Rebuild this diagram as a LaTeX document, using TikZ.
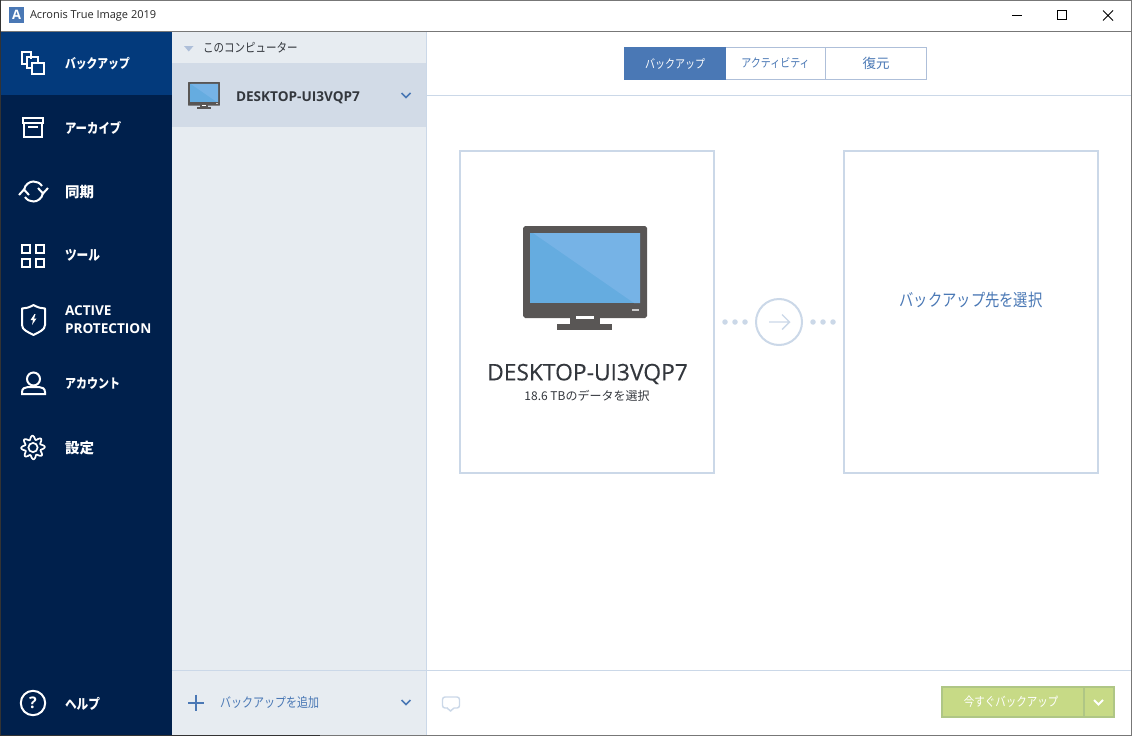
\documentclass[tikz,border=0pt]{standalone}
\usepackage{fontspec}
\setmainfont{Open Sans}
\newfontfamily\cjk{Noto Sans CJK JP}
\newfontfamily\semi[FakeBold=.3]{Open Sans}
\usetikzlibrary{positioning}
\definecolor{navy}{HTML}{00204C}
\definecolor{navyactive}{HTML}{033A7C}
\definecolor{panel}{HTML}{E7ECF1}
\definecolor{panelsel}{HTML}{D2DBE7}
\definecolor{edge}{HTML}{CBD8E8}
\definecolor{tabblue}{HTML}{4A78B5}
\definecolor{tabedge}{HTML}{AEBFD9}
\definecolor{btn}{HTML}{C7DA86}
\definecolor{btnedge}{HTML}{AFC685}
\definecolor{bezel}{HTML}{595655}
\definecolor{screendark}{HTML}{65ACE0}
\definecolor{screenlight}{HTML}{76B3E6}
\definecolor{inktext}{HTML}{33373D}
\definecolor{framegray}{HTML}{777777}
\tikzset{
	txt/.style={inner sep=0pt,outer sep=0pt,font=\cjk},
	menulabel/.style={txt,anchor=west,text=white},
	icon/.style={draw=white,line width=2pt},
	box/.style={draw=edge,line width=2pt,fill=white},
	tabcell/.style={draw=tabedge,line width=1pt,fill=white},
	chev/.style={draw=tabblue,line width=1.7pt},
	dot/.style={circle,fill=edge,inner sep=0pt,minimum size=5.5pt}
}
\newcommand{\kana}[1]{\scalebox{1}[1.2]{#1}}
\newcommand{\drawmonitor}[2]{
	\begin{scope}[shift={#1},scale=#2]
		\fill [bezel] (2,0) -- (122,0) -- (124,2) -- (124,90) -- (122,92) -- (2,92) -- (0,90) -- (0,2) -- cycle;
		\fill [screendark] (7,7) rectangle (117,77);
		\fill [screenlight] (10,7) -- (117,7) -- (117,77) -- (111,77) -- cycle;
		\fill [white!70!bezel] (109,83) rectangle (116,85);
		\fill [bezel] (47,90) rectangle (77,98);
		\fill [white] (53,90) rectangle (71,93);
		\fill [bezel] (34,98) rectangle (89,104);
	\end{scope}
}
\begin{document}
\begin{tikzpicture}[x=1pt,y=-1pt]
	\useasboundingbox (0,0) rectangle (1132,736);
	\fill [white] (0,0) rectangle (1132,736);
	\fill [navy] (0,32) rectangle (172,736);
	\fill [navyactive] (0,32) rectangle (172,95);
	\fill [panel] (172,32) rectangle (426,736);
	\fill [panelsel] (172,63) rectangle (426,127);
	\draw [edge,line width=1pt] (426.5,32) -- (426.5,736);
	\draw [edge,line width=1pt] (427,95.5) -- (1132,95.5);
	\draw [edge,line width=1pt] (172,670.5) -- (1132,670.5);
	\draw [framegray,line width=1pt] (0,.5) -- (1131.5,.5) -- (1131.5,736);
	\draw [framegray,line width=1pt] (0,31.5) -- (1132,31.5);
	\draw [black!80,line width=1pt] (.5,0) -- (.5,736);
	\draw [black!80,line width=1pt] (0,735.5) -- (320,735.5);
	\draw [framegray,line width=1pt] (320,735.5) -- (1132,735.5);

	\fill [tabblue] (9,7) rectangle (24,23);
	\node [txt,text=white,font=\bfseries\fontsize{13}{13}\selectfont] (logo) at (16.5,15) {A};
	\node [txt,anchor=west,text=black!85,font=\fontsize{11}{12}\selectfont] (title) at (30,16) {Acronis True Image 2019};
	\draw [black,line width=1pt] (1012,15.5) -- (1022,15.5);
	\draw [black,line width=1pt] (1057.5,10.5) rectangle (1066.5,19.5);
	\draw [black,line width=1pt] (1103,10.5) -- (1113,20.5) (1113,10.5) -- (1103,20.5);

	\foreach \name/\ypos/\size/\label in {backup/63.5/10.8/\kana{バックアップ},archive/127.5/11.4/\kana{アーカイブ},sync/192/14.5/同期,tools/255.5/11.7/\kana{ツール},account/383.5/11/\kana{アカウント},settings/448/14.5/設定,help/703.5/11.7/\kana{ヘルプ}}
		\node [menulabel,font=\cjk\bfseries\fontsize{\size}{\size}\selectfont] (\name) at (65,\ypos) {\label};
	\node [menulabel,align=left,font=\bfseries\fontsize{13.6}{18.5}\selectfont] (protect) at (65,319.5) {ACTIVE\\PROTECTION};

	\draw [icon] (31,59) -- (31,52) -- (22,52) -- (22,64) -- (27,64);
	\draw [icon] (38,62) -- (38,57) -- (27,57) -- (27,68) -- (31,68);
	\draw [icon] (31.5,62.5) rectangle (44,74);
	\draw [icon] (23,118) rectangle (43,123);
	\draw [icon] (24,123) rectangle (42,137);
	\draw [icon] (28,126.5) -- (38,126.5);
	\draw [icon] (24,190) .. controls (25,184) and (30,181.5) .. (33.5,181.5) .. controls (37,181.5) and (40,183) .. (42,186);
	\draw [icon] (19,195) -- (24,189.5) -- (29,195);
	\draw [icon] (43,193) .. controls (42,199) and (37,201.5) .. (33.5,201.5) .. controls (30,201.5) and (27,200) .. (25,197);
	\draw [icon] (38,188) -- (43,193.5) -- (48,188);
	\foreach \xpos in {22,36}
		\foreach \ypos in {245,259}
			\draw [icon] (\xpos,\ypos) rectangle +(8,8);
	\draw [icon,line join=round] (33.5,305) .. controls (29,307.5) and (26,308.5) .. (22,308.5) -- (22,325) .. controls (22,330) and (28,332) .. (33.5,335) .. controls (39,332) and (45,330) .. (45,325) -- (45,308.5) .. controls (41,308.5) and (38,307.5) .. (33.5,305) -- cycle;
	\fill [white] (34.5,314) -- (30.5,320) -- (33,320) -- (32,325) -- (36.5,318.5) -- (34,318.5) -- (35.5,314) -- cycle;
	\draw [icon] (33.5,379) circle [radius=6.5];
	\draw [icon] (22,394) -- (22,392) .. controls (22,388.5) and (25,387) .. (28,387) -- (39,387) .. controls (42,387) and (45,388.5) .. (45,392) -- (45,394) -- cycle;
	\draw [icon,line width=1.7pt,line join=round] plot [domain=0:360,samples=129,smooth,variable=\t] ({33+(9.9+1.9*cos(8*\t+22.5))*cos(\t)},{447.5+(9.9+1.9*cos(8*\t+22.5))*sin(\t)}) -- cycle;
	\draw [icon,line width=1.7pt] (33,447.5) circle [radius=4.6];
	\draw [icon] (33,703) circle [radius=12.2];
	\node [txt,text=white,font=\bfseries\fontsize{16}{16}\selectfont] (helpmark) at (33,703) {?};

	\fill [tabedge] (184,46) -- (193.5,46) -- (188.75,51.5) -- cycle;
	\node [txt,anchor=west,text=inktext,font=\cjk\fontsize{10.5}{12}\selectfont] (group) at (203,47.5) {\kana{このコンピューター}};
	\drawmonitor{(188,82)}{.258}
	\node [txt,anchor=west,text=inktext,font=\bfseries\fontsize{13.6}{14}\selectfont] (desktopname) at (236,97.5) {DESKTOP-UI3VQP7};
	\draw [chev] (401.5,93) -- (406,97.5) -- (410.5,93);
	\draw [tabblue,line width=2pt] (188,702.5) -- (204,702.5) (196,694.5) -- (196,710.5);
	\node [txt,anchor=west,text=tabblue,font=\cjk\fontsize{11}{12}\selectfont] (addbackup) at (220,702.5) {\kana{バックアップを追加}};
	\draw [chev] (401.5,700) -- (406,704.5) -- (410.5,700);

	\node [tabcell,minimum width=101pt,minimum height=32pt,inner sep=0pt] (tabactivity) at (775.5,63.5) {};
	\node [tabcell,minimum width=101pt,minimum height=32pt,inner sep=0pt] (tabrestore) at (876,63.5) {};
	\fill [tabblue] (624,47) rectangle (726,79.5);
	\node [txt,text=white,font=\cjk\fontsize{10}{12}\selectfont] (tabbackup) at (675,63.5) {\kana{バックアップ}};
	\node [txt,text=tabblue,font=\cjk\fontsize{10}{12}\selectfont] at (tabactivity.center) {\kana{アクティビティ}};
	\node [txt,text=tabblue,font=\cjk\fontsize{13.5}{14}\selectfont] at (tabrestore.center) {復元};

	\node [box,minimum width=254pt,minimum height=322pt,inner sep=0pt] (source) at (587,312) {};
	\node [box,minimum width=254pt,minimum height=322pt,inner sep=0pt] (target) at (971,312) {};
	\drawmonitor{(523,226)}{1}
	\node [txt,text=inktext,font=\semi\fontsize{22.8}{26}\selectfont] (sourcename) at (587.5,374) {DESKTOP-UI3VQP7};
	\node [txt,text=inktext,font=\cjk\fontsize{12}{14}\selectfont] (sourceinfo) at (587,396) {18.6 TBのデータを選択};
	\node [txt,text=tabblue,font=\cjk\fontsize{14.3}{16}\selectfont,yshift=12pt] (targetlabel) at (target.center) {\kana{バックアップ先を選択}};

	\node [circle,draw=edge,line width=2pt,minimum size=46pt,inner sep=0pt] (go) at (779,322) {};
	\foreach \xpos in {725,735,745,813,823,833}
		\node [dot] at (\xpos,322) {};
	\draw [edge,line width=1.4pt] (769,322) -- (789.5,322) (782,314.5) -- (789.5,322) -- (782,329.5);

	\draw [edge,line width=1.4pt,rounded corners=2.5pt] (442.5,697) rectangle (459.5,708);
	\draw [white,line width=1.6pt] (447.5,708) -- (453.5,708);
	\draw [edge,line width=1.4pt] (447,708) -- (450.5,711) -- (454,708);

	\node [draw=btnedge,fill=btn,line width=2pt,minimum width=142.5pt,minimum height=30pt,inner sep=0pt] (backupnow) at (1013,702) {};
	\node [draw=btnedge,fill=btn,line width=2pt,minimum width=30pt,minimum height=30pt,inner sep=0pt,right=-2pt of backupnow] (backupmenu) {};
	\node [txt,text=white,font=\cjk\fontsize{10.5}{12}\selectfont] at (1011,702) {\kana{今すぐバックアップ}};
	\draw [white,line width=2pt] (1094,700) -- (1098.5,704.5) -- (1103,700);
\end{tikzpicture}
\end{document}
